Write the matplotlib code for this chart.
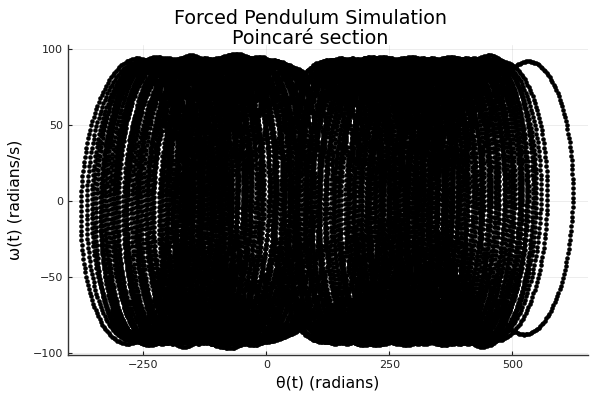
import numpy as np
import matplotlib
matplotlib.use("Agg")
import matplotlib.pyplot as plt

# Loops of the Poincaré section:
# centre in θ, outer half-width in θ, half-height in ω, top/bottom skew in θ
loop_center = [-272, -266, -258, -250, -243, -236, -230, -222, -214, -205,
               -198, -190, -182, -175, -167, -160, -152, -145, -137, -130,
               -122, -114, -106, -98, -90, -83, -75, -67, -60, -52,
               -44, -36, -28, -20, -12, -4, 5, 18, 32, 47,
               103, 112, 122, 134, 146, 154, 162, 170, 178, 186,
               195, 205, 213, 221, 230, 238, 246, 254, 262, 272,
               281, 290, 298, 306, 314, 322, 330, 338, 346, 355,
               362, 368, 376, 384, 392, 400, 408, 416, 424, 432,
               440, 446, 454, 462, 472, 528]
loop_width = [105, 99, 97, 101, 95, 98, 100, 94, 97, 99,
              93, 96, 100, 95, 98, 100, 94, 97, 95, 99,
              93, 96, 98, 94, 97, 100, 96, 102, 95, 98,
              94, 97, 93, 96, 92, 95, 94, 92, 92, 90,
              92, 95, 94, 98, 93, 96, 99, 94, 100, 95,
              92, 97, 95, 99, 93, 96, 98, 94, 97, 95,
              99, 98, 93, 96, 94, 97, 95, 100, 93, 96,
              94, 97, 95, 99, 93, 96, 94, 98, 95, 97,
              93, 99, 95, 96, 99, 95]
loop_height = [94, 92, 91, 93, 92, 94, 95, 92, 93, 94,
               91, 93, 94, 92, 94, 96, 92, 93, 91, 94,
               92, 93, 94, 92, 95, 96, 94, 97, 93, 95,
               93, 94, 92, 95, 93, 92, 93, 92, 90, 88,
               89, 92, 93, 93, 94, 92, 93, 94, 93, 92,
               94, 95, 93, 94, 95, 93, 94, 92, 93, 94,
               93, 95, 92, 93, 94, 93, 94, 93, 92, 94,
               93, 95, 93, 94, 92, 94, 93, 94, 92, 93,
               94, 96, 93, 92, 92, 90]
loop_skew = [10, 8, 6, 9, 7, 8, 7, 8, 10, 6,
             8, 7, 9, 6, 8, 7, 9, 8, 6, 7,
             9, 8, 6, 7, 9, 8, 6, 7, 9, 8,
             6, 7, 5, 6, 7, 5, 6, 5, 4, 4,
             5, 6, 7, 5, 6, 7, 5, 6, 7, 5,
             6, 7, 5, 6, 7, 5, 6, 7, 5, 6,
             7, 5, 6, 7, 5, 6, 7, 5, 6, 7,
             5, 6, 7, 5, 6, 7, 5, 6, 7, 5,
             6, 7, 5, 6, 5, 4]
loop_omega_offset = [0] * 85 + [2]

# nested inner loops: fraction of the outer half-width / half-height
nest_width = [1.0, 0.7]
nest_height = [1.0, 0.96]

n_points = 180

x_ticks = [-250, 0, 250, 500]
y_ticks = [-100, -50, 0, 50, 100]

fig = plt.figure(figsize=(6, 4), dpi=100)
ax = fig.add_axes([0.1128, 0.1125, 0.8677, 0.775])

k = 0
for i, (c, a, b, s, o) in enumerate(zip(loop_center, loop_width, loop_height,
                                          loop_skew, loop_omega_offset)):
    nests = 1 if i == len(loop_center) - 1 else len(nest_width)
    for j in range(nests):
        phi = np.linspace(0, 2 * np.pi, n_points, endpoint=False) + 0.37 * k
        k += 1
        th = c + a * nest_width[j] * np.sin(phi) + s * np.cos(phi)
        om = o + b * nest_height[j] * np.cos(phi)
        ax.scatter(th, om, s=11, c="black", linewidths=0, zorder=3)

ax.set_xlim(-403.7, 654.5)
ax.set_ylim(-101.5, 102.8)
ax.set_xticks(x_ticks)
ax.set_yticks(y_ticks)
ax.set_xticklabels([str(v).replace("-", "\u2212") for v in x_ticks])
ax.set_yticklabels([str(v).replace("-", "\u2212") for v in y_ticks])
ax.tick_params(direction="in", length=3, width=0.8, labelsize=8,
               colors="#222222")
ax.grid(True, color="black", alpha=0.1, linewidth=0.5)
ax.set_axisbelow(True)
for side in ("top", "right"):
    ax.spines[side].set_visible(False)
for side in ("left", "bottom"):
    ax.spines[side].set_color("#333333")
    ax.spines[side].set_linewidth(1.0)

fig.text(310 / 600, 1 - 18 / 400, "Forced Pendulum Simulation",
         fontsize=13.8, ha="center", va="center")
fig.text(310 / 600, 1 - 38 / 400, "Poincaré section",
         fontsize=13.8, ha="center", va="center")
ax.set_xlabel("θ(t) (radians)", fontsize=11.3, labelpad=4)
ax.set_ylabel("ω(t) (radians/s)", fontsize=11.3, labelpad=7)

fig.savefig("out.png", dpi=100)
